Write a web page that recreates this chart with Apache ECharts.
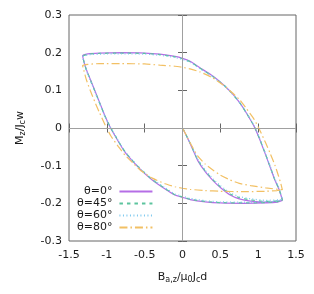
<!DOCTYPE html>
<html><head><meta charset="utf-8">
<script src="https://cdn.jsdelivr.net/npm/echarts@6/dist/echarts.min.js"></script>
<style>html,body{margin:0;padding:0;background:#fff}#c{width:314px;height:294px}</style>
</head><body><div id="c"></div>
<script>
// Field grids (B_a,z / mu0 Jc d)
const B_virgin   = [0, 0.05, 0.1, 0.2, 0.3, 0.41, 0.5, 0.63, 0.75, 0.9, 1.1, 1.32];
const B_down     = [1.32, 1.3, 1.27, 1.22, 1.16, 1.1, 1.02, 0.95, 0.85, 0.76, 0.65, 0.54, 0.4, 0.23, 0.1, 0, -0.1, -0.3, -0.5, -0.8, -1.1, -1.25, -1.32];
const B_up       = [-1.32, -1.3, -1.27, -1.22, -1.16, -1.1, -1.02, -0.95, -0.85, -0.76, -0.65, -0.54, -0.4, -0.23, -0.1, 0, 0.1, 0.3, 0.5, 0.8, 1.1, 1.25, 1.32];

// theta = 0
const M0_virgin  = [0, -0.02, -0.041, -0.086, -0.116, -0.141, -0.158, -0.178, -0.188, -0.194, -0.197, -0.192];
const M0_down    = [-0.192, -0.178, -0.160, -0.138, -0.105, -0.072, -0.030, 0.003, 0.038, 0.066, 0.093, 0.115, 0.138, 0.160, 0.177, 0.185, 0.190, 0.196, 0.199, 0.200, 0.199, 0.197, 0.192];
const M0_up      = [0.192, 0.175, 0.155, 0.130, 0.100, 0.070, 0.030, 0.000, -0.035, -0.064, -0.090, -0.113, -0.138, -0.162, -0.178, -0.184, -0.190, -0.196, -0.199, -0.200, -0.199, -0.197, -0.192];
// theta = 45
const M45_virgin = [0, -0.019, -0.040, -0.084, -0.114, -0.139, -0.156, -0.175, -0.185, -0.191, -0.195, -0.191];
const M45_down   = [-0.191, -0.177, -0.159, -0.137, -0.104, -0.071, -0.029, 0.004, 0.038, 0.066, 0.093, 0.115, 0.137, 0.159, 0.176, 0.184, 0.189, 0.195, 0.198, 0.199, 0.198, 0.196, 0.191];
const M45_up     = [0.191, 0.174, 0.154, 0.129, 0.099, 0.069, 0.029, 0.001, -0.034, -0.063, -0.089, -0.112, -0.137, -0.161, -0.177, -0.183, -0.189, -0.195, -0.198, -0.199, -0.198, -0.196, -0.191];
// theta = 60
const M60_virgin = [0, -0.019, -0.039, -0.082, -0.112, -0.136, -0.153, -0.172, -0.182, -0.188, -0.192, -0.189];
const M60_down   = [-0.189, -0.175, -0.157, -0.135, -0.102, -0.069, -0.027, 0.005, 0.039, 0.066, 0.092, 0.114, 0.136, 0.157, 0.174, 0.182, 0.187, 0.193, 0.196, 0.197, 0.196, 0.194, 0.189];
const M60_up     = [0.189, 0.172, 0.152, 0.127, 0.097, 0.067, 0.028, 0.002, -0.033, -0.062, -0.088, -0.111, -0.135, -0.159, -0.175, -0.181, -0.187, -0.193, -0.196, -0.197, -0.196, -0.194, -0.189];
// theta = 80
const M80_virgin = [0, -0.019, -0.039, -0.074, -0.096, -0.113, -0.125, -0.138, -0.147, -0.153, -0.159, -0.164];
const M80_down   = [-0.164, -0.148, -0.128, -0.098, -0.068, -0.040, -0.005, 0.022, 0.050, 0.074, 0.095, 0.114, 0.133, 0.149, 0.157, 0.161, 0.164, 0.167, 0.170, 0.171, 0.171, 0.169, 0.166];
const M80_up     = [0.166, 0.150, 0.128, 0.100, 0.070, 0.042, 0.007, -0.020, -0.049, -0.072, -0.094, -0.115, -0.133, -0.148, -0.156, -0.160, -0.163, -0.166, -0.168, -0.169, -0.168, -0.166, -0.164];

const seriesNames = ['θ=0°', 'θ=45°', 'θ=60°', 'θ=80°'];
const xTickLabels = ['-1.5', '-1', '-0.5', '0', '0.5', '1', '1.5'];
const yTickLabels = ['-0.3', '-0.2', '-0.1', '0', '0.1', '0.2', '0.3'];

const FONT = 'DejaVu Sans';
const TXT = '#1a1a1a';
function zip(xs, ys) { return xs.map((x, i) => [x, ys[i]]); }
function loop(v, d, u) { return [].concat(zip(B_virgin, v), zip(B_down, d), zip(B_up, u)); }

const curves = [
  loop(M0_virgin, M0_down, M0_up),
  loop(M45_virgin, M45_down, M45_up),
  loop(M60_virgin, M60_down, M60_up),
  loop(M80_virgin, M80_down, M80_up)
];
const styles = [
  { color: '#b56ee6', type: 'solid', width: 1.2 },
  { color: '#5cc49e', type: [3.5, 4], width: 1.2 },
  { color: '#7cc8ef', type: [1, 2.5], width: 1.2 },
  { color: '#f2c064', type: [8, 3, 1.5, 3], width: 1.2 }
];

const rich = {
  n: { fontSize: 11, fontFamily: FONT, color: TXT, lineHeight: 14 },
  s: { fontSize: 8, fontFamily: FONT, color: TXT, lineHeight: 8, verticalAlign: 'bottom' }
};

const series = curves.map((d, i) => ({
  name: seriesNames[i], type: 'line', data: d, showSymbol: false, symbol: 'none', smooth: 0.15,
  lineStyle: styles[i], itemStyle: { color: styles[i].color }, silent: true,
  markLine: i === 0 ? {
    silent: true, symbol: 'none', label: { show: false },
    lineStyle: { color: '#a0a0a0', width: 1, type: 'solid' },
    data: [{ xAxis: 0 }, { yAxis: 0 }]
  } : undefined
}));

const axisCommon = {
  axisLine: { show: false },
  axisTick: { show: true, inside: true, length: 4.5, lineStyle: { color: '#666' } },
  splitLine: { show: false }
};

const chart = echarts.init(document.getElementById('c'), null, { renderer: 'canvas' });
chart.setOption({
  animation: false,
  grid: { left: 69, right: 18, top: 15, bottom: 53, show: true, borderColor: '#666', borderWidth: 1, backgroundColor: 'transparent' },
  legend: {
    orient: 'vertical', left: 77, top: 186, padding: 0, itemGap: 1, itemWidth: 33, itemHeight: 11.7,
    align: 'right', data: seriesNames,
    itemStyle: { opacity: 0 },
    textStyle: { fontFamily: FONT, fontSize: 11, color: TXT, width: 36, align: 'right', padding: [0, 2, 0, 0] }
  },
  xAxis: [
    Object.assign({
      type: 'value', min: -1.5, max: 1.5, interval: 0.5, position: 'bottom',
      axisLabel: { fontFamily: FONT, fontSize: 11, color: TXT, margin: 9,
        formatter: v => xTickLabels[Math.round((v + 1.5) / 0.5)] },
      name: '{n|B}{s|a,z}{n|/μ}{s|0}{n|J}{s|c}{n|d}', nameLocation: 'middle', nameGap: 29,
      nameTextStyle: { rich: rich }
    }, axisCommon),
    Object.assign({
      type: 'value', min: -1.5, max: 1.5, interval: 0.5, position: 'top',
      axisLabel: { show: false }
    }, axisCommon)
  ],
  yAxis: [
    Object.assign({
      type: 'value', min: -0.3, max: 0.3, interval: 0.1, position: 'left',
      axisLabel: { fontFamily: FONT, fontSize: 11, color: TXT, margin: 7,
        formatter: v => yTickLabels[Math.round((v + 0.3) / 0.1)] },
      name: '{n|M}{s|z}{n|/J}{s|c}{n|w}', nameLocation: 'middle', nameGap: 42, nameRotate: 90,
      nameTextStyle: { rich: rich }
    }, axisCommon),
    Object.assign({
      type: 'value', min: -0.3, max: 0.3, interval: 0.1, position: 'right',
      axisLabel: { show: false }
    }, axisCommon)
  ],
  series: series
});
</script>
</body></html>
